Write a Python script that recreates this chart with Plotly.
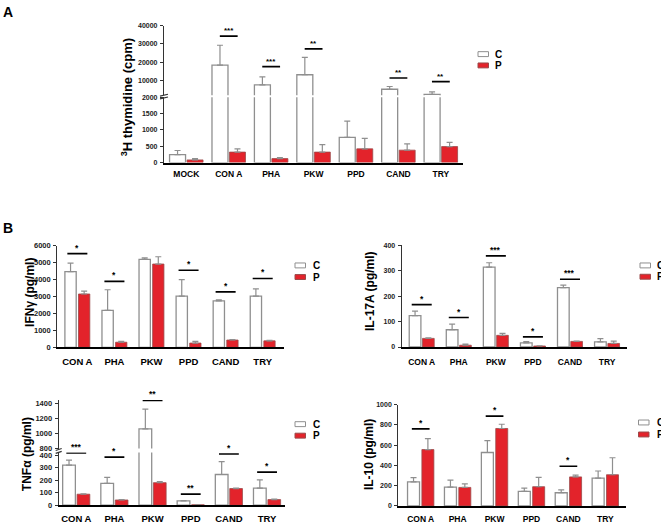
import plotly.graph_objects as go

W, H = 661, 524
FONT = "Liberation Sans, Arial, sans-serif"
RED = "#e3232b"
GREY = "#8f8f8f"
DARK = "#222222"

# ---------------- data ----------------
series_names = ["C", "P"]

stim_A = ["MOCK", "CON A", "PHA", "PKW", "PPD", "CAND", "TRY"]
thy_C = [240, 18500, 7700, 13200, 770, 5300, 2500]
thy_C_err = [130, 10800, 4400, 9500, 500, 1500, 1400]
thy_P = [80, 320, 120, 320, 420, 380, 490]
thy_P_err = [40, 100, 35, 230, 320, 190, 130]
thy_sig = [None, "***", "***", "**", None, "**", "**"]
thy_sig_y = [None, 34270, 17660, 27300, None, 11450, 9460]

stim_B = ["CON A", "PHA", "PKW", "PPD", "CAND", "TRY"]
ifn_C = [4470, 2180, 5200, 3030, 2740, 3030]
ifn_C_err = [500, 1220, 80, 970, 60, 420]
ifn_P = [3150, 300, 4920, 250, 430, 380]
ifn_P_err = [170, 50, 430, 100, 30, 30]
ifn_sig = ["*", "*", None, "*", "*", "*"]
ifn_sig_y = [5536, 3896, None, 4551, 3275, 4070]

il17_C = [124, 68, 315, 16, 234, 20]
il17_C_err = [17, 22, 17, 5, 10, 13]
il17_P = [34, 7, 46, 4, 22, 14]
il17_P_err = [2, 4, 8, 1, 1, 9]
il17_sig = ["*", "*", "***", "*", "***", None]
il17_sig_y = [167, 116, 359, 40, 267, None]

tnf_C = [320, 175, 1060, 34, 245, 137]
tnf_C_err = [40, 47, 260, 3, 103, 65]
tnf_P = [88, 42, 180, 3, 133, 45]
tnf_P_err = [3, 3, 8, 1, 3, 4]
tnf_sig = ["***", "*", "**", "**", "*", "*"]
tnf_sig_y = [416, 384, 1434, 89, 408, 264]

il10_C = [237, 185, 528, 143, 130, 275]
il10_C_err = [42, 70, 117, 32, 29, 70]
il10_P = [557, 183, 765, 190, 287, 308]
il10_P_err = [107, 35, 42, 92, 17, 168]
il10_sig = ["*", None, "*", None, "*", None]
il10_sig_y = [761, None, 887, None, 392, None]

# ---------------- helpers ----------------
def xd(a, b):
    return [a / W, b / W]

def yd(top, bottom):
    return [1 - bottom / H, 1 - top / H]

def px(xp):
    return xp / W

def py(yp):
    return 1 - yp / H

fig = go.Figure()
layout = {}
shapes = []
annotations = []

def add_bars(n, cats, c, ce, p, pe, off_c, off_p, w):
    xa, ya = "x%d" % n, "y%d" % n
    fig.add_trace(go.Bar(
        x=cats, y=c, xaxis=xa, yaxis=ya, offset=off_c, width=w, name=series_names[0],
        marker=dict(color="white", line=dict(color=GREY, width=1.3)),
        error_y=dict(type="data", array=ce, arrayminus=[0] * len(ce), symmetric=False,
                     color=GREY, thickness=1.2, width=3),
        showlegend=False))
    fig.add_trace(go.Bar(
        x=cats, y=p, xaxis=xa, yaxis=ya, offset=off_p, width=w, name=series_names[1],
        marker=dict(color=RED, line=dict(color="#9a4a4a", width=0.8)),
        error_y=dict(type="data", array=pe, arrayminus=[0] * len(pe), symmetric=False,
                     color=GREY, thickness=1.2, width=3),
        showlegend=False))

def x_axis(n, cats, xdom, rng, ya, show, lab_size, standoff):
    key = "xaxis" if n == 1 else "xaxis%d" % n
    layout[key] = dict(
        domain=xdom, anchor=ya, type="category", categoryorder="array", categoryarray=cats,
        range=rng, showline=show, linecolor="black", linewidth=1.5, ticks="",
        showticklabels=show, showgrid=False, zeroline=False, fixedrange=True,
        tickfont=dict(family=FONT, size=lab_size, color="black", weight="bold"),
        ticklabelstandoff=standoff)

def y_axis(n, ydom, rng, tickvals, xa, tsize):
    key = "yaxis" if n == 1 else "yaxis%d" % n
    layout[key] = dict(
        domain=ydom, anchor=xa, range=rng, tickvals=tickvals,
        ticktext=[str(v) for v in tickvals],
        showline=True, linecolor="#333", linewidth=1.2, ticks="outside", ticklen=3,
        tickwidth=1, tickcolor="#333", showgrid=False, zeroline=False, fixedrange=True,
        tickfont=dict(family=FONT, size=tsize, color=DARK, weight="bold"),
        ticklabelstandoff=1)

def add_sig(n, sig, sig_y, half, star_size):
    for i, (s, yv) in enumerate(zip(sig, sig_y)):
        if s is None:
            continue
        shapes.append(dict(type="line", xref="x%d" % n, yref="y%d" % n,
                           x0=i - half, x1=i + half, y0=yv, y1=yv,
                           line=dict(color="black", width=1.6)))
        annotations.append(dict(x=i, y=yv, xref="x%d" % n, yref="y%d" % n, text=s,
                                showarrow=False, yanchor="bottom", yshift=-1,
                                font=dict(family=FONT, size=star_size, color="black", weight="bold")))

def add_legend(x0, yc_list, text_x, box_w=10.5, box_h=5):
    fills = ["white", RED]
    lines = [GREY, "#9a4a4a"]
    for name, yc, f, lc in zip(series_names, yc_list, fills, lines):
        shapes.append(dict(type="rect", xref="paper", yref="paper",
                           x0=px(x0), x1=px(x0 + box_w), y0=py(yc + box_h / 2), y1=py(yc - box_h / 2),
                           fillcolor=f, line=dict(color=lc, width=1)))
        annotations.append(dict(x=px(text_x), y=py(yc), xref="paper", yref="paper", text=name,
                                showarrow=False, xanchor="left", yanchor="middle",
                                font=dict(family=FONT, size=10, color="black", weight="bold")))

def add_ytitle(text, xc, yc, size):
    annotations.append(dict(x=px(xc), y=py(yc), xref="paper", yref="paper", text=text,
                            showarrow=False, textangle=-90, xanchor="center", yanchor="middle",
                            font=dict(family=FONT, size=size, color="black", weight="bold")))

def add_break(xc, y1, y2, half=4):
    for yy in (y1, y2):
        shapes.append(dict(type="line", xref="paper", yref="paper",
                           x0=px(xc - half), x1=px(xc + half), y0=py(yy + 1), y1=py(yy - 1),
                           line=dict(color="#333", width=1.2)))

# ---------------- Panel A (broken axis) ----------------
rngA = [-0.526, 6.529]
xdA = xd(164, 463.3)
# upper segment
x_axis(1, stim_A, xdA, rngA, "y", False, 8.5, 3)
y_axis(1, yd(22, 92.9), [2000, 40000], [10000, 20000, 30000, 40000], "x", 7)
add_bars(1, stim_A, thy_C, thy_C_err, thy_P, thy_P_err, -0.395, 0.0175, 0.377)
# lower segment
x_axis(2, stim_A, xdA, rngA, "y2", True, 8.5, 3)
y_axis(2, yd(95, 161.3), [0, 2000], [0, 500, 1000, 1500, 2000], "x2", 7)
add_bars(2, stim_A, thy_C, thy_C_err, thy_P, thy_P_err, -0.395, 0.0175, 0.377)
add_sig(1, thy_sig, thy_sig_y, 0.21, 8)
add_break(164, 92.8, 95.6)
add_ytitle("<sup>3</sup>H thymidine (cpm)", 127, 95, 13)
add_legend(478, [51, 62.5], 493)

# ---------------- IFN-gamma ----------------
x_axis(3, stim_B, xd(57.3, 284.3), [-0.541, 5.583], "y3", True, 9.5, 5)
y_axis(3, yd(246, 349.3), [0, 6000], [0, 1000, 2000, 3000, 4000, 5000, 6000], "x3", 7.5)
add_bars(3, stim_B, ifn_C, ifn_C_err, ifn_P, ifn_P_err, -0.336, 0.031, 0.305)
add_sig(3, ifn_sig, ifn_sig_y, 0.27, 8.5)
add_ytitle("IFNγ (pg/ml)", 30, 294, 12)
add_legend(295, [266, 277.8], 310.5)

# ---------------- IL-17A ----------------
x_axis(4, stim_B, xd(401.7, 626.7), [-0.54, 5.53], "y4", True, 8.5, 6)
y_axis(4, yd(245.7, 349), [0, 400], [0, 100, 200, 300, 400], "x4", 7)
add_bars(4, stim_B, il17_C, il17_C_err, il17_P, il17_P_err, -0.337, 0.022, 0.315)
add_sig(4, il17_sig, il17_sig_y, 0.27, 8.5)
add_ytitle("IL-17A (pg/ml)", 370, 292, 12)
add_legend(640, [266, 277.5], 655)

# ---------------- TNF-alpha (broken axis) ----------------
rngT = [-0.46, 5.47]
xdT = xd(58.7, 285)
x_axis(5, stim_B, xdT, rngT, "y5", False, 9.5, 4)
y_axis(5, yd(402.9, 452.3), [800, 1440], [800, 1000, 1200, 1400], "x5", 7.5)
add_bars(5, stim_B, tnf_C, tnf_C_err, tnf_P, tnf_P_err, -0.356, 0.022, 0.333)
x_axis(6, stim_B, xdT, rngT, "y6", True, 9.5, 4)
y_axis(6, yd(456.4, 510), [0, 420], [0, 100, 200, 300, 400], "x6", 7.5)
add_bars(6, stim_B, tnf_C, tnf_C_err, tnf_P, tnf_P_err, -0.356, 0.022, 0.333)
tnf_sig_upper = [s if (y is not None and y > 800) else None for s, y in zip(tnf_sig, tnf_sig_y)]
tnf_sig_lower = [s if (y is not None and y <= 800) else None for s, y in zip(tnf_sig, tnf_sig_y)]
add_sig(5, tnf_sig_upper, tnf_sig_y, 0.26, 8.5)
add_sig(6, tnf_sig_lower, tnf_sig_y, 0.26, 8.5)
add_break(58.7, 453.3, 456.2, 3)
add_ytitle("TNFα (pg/ml)", 27, 458, 12)
add_legend(295, [427.5, 439.2], 310.5)

# ---------------- IL-10 ----------------
x_axis(7, stim_B, xd(398.3, 626), [-0.607, 5.56], "y7", True, 8.5, 4)
y_axis(7, yd(407.7, 510.7), [0, 1000], [0, 200, 400, 600, 800, 1000], "x7", 7)
add_bars(7, stim_B, il10_C, il10_C_err, il10_P, il10_P_err, -0.357, 0.032, 0.325)
add_sig(7, il10_sig, il10_sig_y, 0.24, 8.5)
add_ytitle("IL-10 (pg/ml)", 369, 459, 12)
add_legend(638.5, [425.8, 438], 655)

# panel letters
for letter, yy in (("A", 8.5), ("B", 228)):
    annotations.append(dict(x=px(1), y=py(yy), xref="paper", yref="paper", text=letter,
                            showarrow=False, xanchor="left", yanchor="middle",
                            font=dict(family=FONT, size=14, color="black", weight="bold")))

fig.update_layout(
    width=W, height=H, margin=dict(l=0, r=0, t=0, b=0),
    paper_bgcolor="white", plot_bgcolor="rgba(0,0,0,0)",
    barmode="overlay", showlegend=False,
    shapes=shapes, annotations=annotations,
    font=dict(family=FONT),
    **layout)

fig.write_html(
    "out.html", config={"displayModeBar": False},
    post_script=("document.documentElement.style.overflow='hidden';"
                 "document.body.style.overflow='hidden';"
                 "document.body.style.margin='0';document.body.style.padding='0';"
                 "window.scrollTo(0,0);"))
